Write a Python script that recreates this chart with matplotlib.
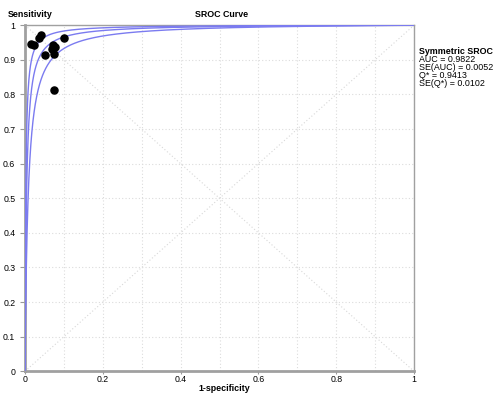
import numpy as np
import matplotlib
matplotlib.use("Agg")
import matplotlib.pyplot as plt

plt.rcParams['font.family'] = ['Liberation Sans', 'DejaVu Sans']

# study points (1-specificity, sensitivity)
fpr = [0.016, 0.024, 0.040, 0.037, 0.100, 0.051, 0.073, 0.077, 0.069, 0.075, 0.075]
tpr = [0.947, 0.944, 0.971, 0.963, 0.964, 0.915, 0.942, 0.937, 0.930, 0.916, 0.813]

# symmetric SROC summary
auc = 0.9822
se_auc = 0.0052
q_star = 0.9413
se_q = 0.0102

# diagnostic log odds from Q*, band from SE(Q*)
a = 2 * np.log(q_star / (1 - q_star))
se_a = se_q / (q_star * (1 - q_star) / 2)

fig = plt.figure(figsize=(4.96, 3.93), dpi=100)
ax = fig.add_axes([0.0504, 0.0553, 0.7843, 0.8805])

x = np.linspace(1e-5, 1, 2000)
for aa in [a - 1.96 * se_a, a, a + 1.96 * se_a]:
    y = 1 / (1 + np.exp(-aa) * (1 - x) / x)
    ax.plot(x, y, color='#7b7bf0', lw=1.0, zorder=3)

ax.plot([0, 1], [0, 1], color='#d8d8d8', lw=0.8, ls=(0, (1, 2)), zorder=1)
ax.plot([0, 1], [1, 0], color='#d8d8d8', lw=0.8, ls=(0, (1, 2)), zorder=1)

ax.scatter(fpr, tpr, s=26, color='black', zorder=4)

ax.set_xlim(0, 1)
ax.set_ylim(0, 1)
ax.set_xticks(np.arange(0, 1.01, 0.1), minor=True)
ax.set_yticks(np.arange(0, 1.01, 0.1), minor=True)
ax.set_xticks([0, 0.2, 0.4, 0.6, 0.8, 1])
ax.set_xticklabels(['0', '0.2', '0.4', '0.6', '0.8', '1'])
ax.set_yticks(np.arange(0, 1.01, 0.1))
ax.set_yticklabels(['0'] + ['%.1f' % v for v in np.arange(0.1, 1.0, 0.1)] + ['1'])
ax.grid(True, which='both', color='#dcdcdc', lw=0.8, ls=(0, (1, 2)))
ax.tick_params(which='major', labelsize=6.3, color='#999999')
ax.tick_params(axis='y', length=3.5, pad=3.5)
ax.tick_params(axis='x', length=2, pad=0.5)
ax.tick_params(which='minor', length=0)
for s in ax.spines.values():
    s.set_color('#a0a0a0')
    s.set_linewidth(1.0)
ax.spines['left'].set_linewidth(2)
ax.spines['bottom'].set_linewidth(2)

fig.text(0.016, 0.962, 'Sensitivity', fontsize=6.4, fontweight='bold', va='center')
fig.text(0.446, 0.962, 'SROC Curve', fontsize=6.4, fontweight='bold', va='center', ha='center')
fig.text(0.453, 0.011, '1-specificity', fontsize=6.4, fontweight='bold', va='center', ha='center')

tx = 0.845
fig.text(tx, 0.870, 'Symmetric SROC', fontsize=6.4, fontweight='bold', va='center')
lines = ['AUC = %.4f' % auc, 'SE(AUC) = %.4f' % se_auc,
         'Q* = %.4f' % q_star, 'SE(Q*) = %.4f' % se_q]
for i, t in enumerate(lines):
    fig.text(tx, 0.849 - i * 0.0205, t, fontsize=6.4, va='center')

fig.savefig('out.png', dpi=100)
